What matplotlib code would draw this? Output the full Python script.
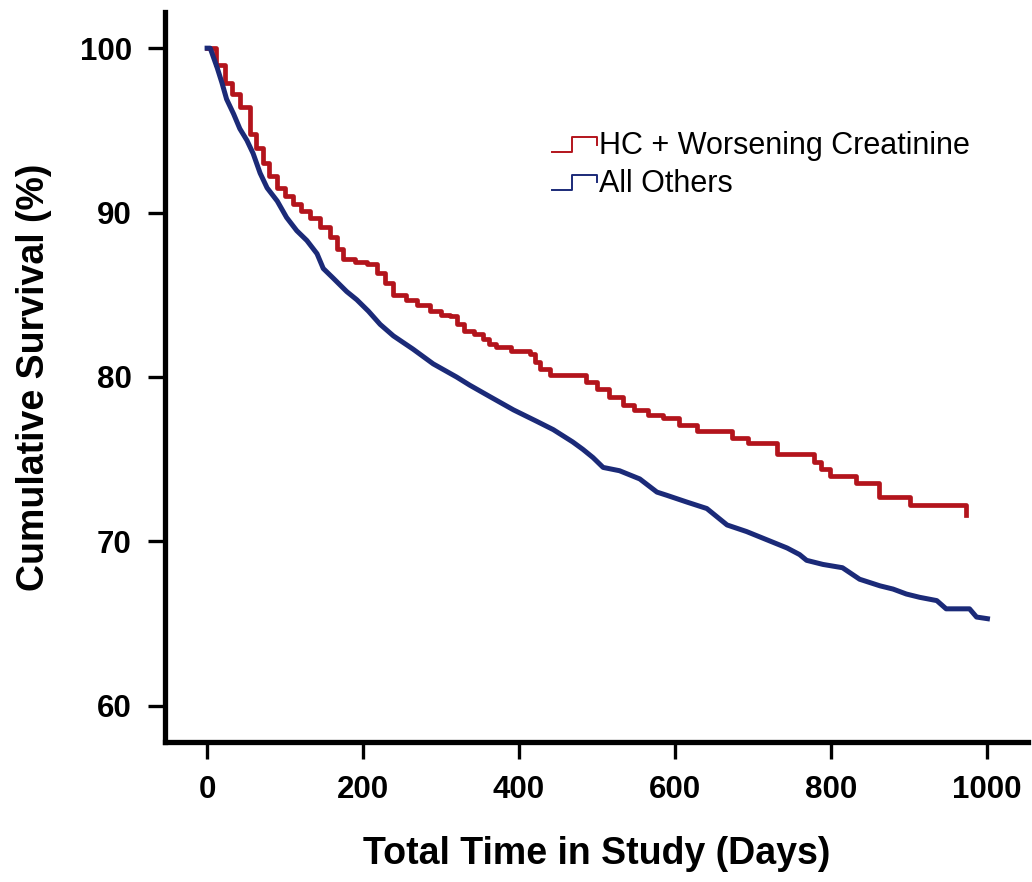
import matplotlib
matplotlib.use('Agg')
import matplotlib.pyplot as plt
from matplotlib.lines import Line2D
from matplotlib.legend_handler import HandlerBase

# --- data (days, cumulative survival %) ---
hc_days = [0, 4, 12, 23, 32, 42, 55, 63, 72, 80, 90, 100, 110, 120, 132, 145, 158, 166, 174,
           190, 205, 218, 228, 239, 255, 269, 286, 300, 311, 320, 329, 342, 354, 362, 371, 390,
           414, 420, 427, 440, 474, 486, 500, 516, 533, 548, 565, 585, 605, 628, 673, 694, 731,
           779, 788, 799, 833, 862, 901, 974]
hc_surv = [100, 100, 99.0, 97.9, 97.2, 96.4, 94.8, 93.9, 93.0, 92.2, 91.5, 91.0, 90.5, 90.1,
           89.7, 89.1, 88.5, 87.8, 87.2, 87.0, 86.9, 86.3, 85.7, 85.0, 84.7, 84.4, 84.0, 83.8,
           83.7, 83.2, 82.8, 82.6, 82.3, 82.0, 81.8, 81.6, 81.4, 80.9, 80.5, 80.1, 80.1, 79.7,
           79.3, 78.8, 78.3, 78.0, 77.7, 77.5, 77.1, 76.7, 76.3, 76.0, 75.3, 74.8, 74.4, 74.0,
           73.55, 72.7, 72.2, 71.6]

oth_days = [0, 4, 13, 19, 25, 34, 42, 51, 59, 68, 77, 90, 102, 115, 128, 141, 149, 162, 179,
            192, 207, 222, 239, 264, 290, 320, 337, 363, 393, 423, 444, 469, 482, 495, 508,
            529, 555, 577, 590, 615, 641, 654, 667, 692, 718, 744, 760, 769, 790, 815, 837,
            863, 880, 897, 914, 936, 948, 978, 987, 1001]
oth_surv = [100, 100, 98.8, 97.9, 96.9, 96.0, 95.1, 94.4, 93.6, 92.4, 91.5, 90.7, 89.7, 88.9,
            88.3, 87.5, 86.6, 86.0, 85.2, 84.7, 84.0, 83.2, 82.5, 81.7, 80.8, 80.0, 79.5, 78.8,
            78.0, 77.3, 76.8, 76.05, 75.6, 75.1, 74.5, 74.3, 73.8, 73.0, 72.8, 72.4, 72.0, 71.5,
            71.0, 70.6, 70.1, 69.6, 69.2, 68.85, 68.6, 68.4, 67.7, 67.3, 67.1, 66.8, 66.6, 66.4,
            65.9, 65.9, 65.4, 65.3]

x_ticks = [0, 200, 400, 600, 800, 1000]
y_ticks = [60, 70, 80, 90, 100]

RED = '#b3141c'
BLUE = '#1b2a78'
FONT = 'Liberation Sans'


class StepHandler(HandlerBase):
    # small step-shaped legend key, like the original
    def create_artists(self, legend, orig_handle, xdescent, ydescent, width, height, fontsize, trans):
        fx = [0, 0.45, 0.45, 1.0, 1.0]
        fy = [0.1, 0.1, 0.8, 0.8, 0.45]
        xs = [f * width - xdescent for f in fx]
        ys = [f * height - ydescent for f in fy]
        ln = Line2D(xs, ys, color=orig_handle.get_color(), lw=1.4)
        ln.set_transform(trans)
        return [ln]


fig = plt.figure(figsize=(10.32, 8.82), dpi=100)
ax = fig.add_axes([165 / 1032, 1 - 742 / 882, (1028 - 165) / 1032, (742 - 12) / 882])

l1, = ax.plot(hc_days, hc_surv, drawstyle='steps-post', color=RED, lw=3.4)
# the "All Others" curve has very fine steps, so it is drawn as a jagged line
l2, = ax.plot(oth_days, oth_surv, color=BLUE, lw=3.6)

ax.set_xlim(-54, 1053)
ax.set_ylim(57.8, 102.2)
ax.set_xticks(x_ticks)
ax.set_yticks(y_ticks)

for s in ['top', 'right']:
    ax.spines[s].set_visible(False)
for s in ['left', 'bottom']:
    ax.spines[s].set_linewidth(3.8)
ax.tick_params(direction='out', length=12, width=2.4, pad=12)

for lab in ax.get_xticklabels() + ax.get_yticklabels():
    lab.set_fontfamily(FONT)
    lab.set_fontweight('bold')
    lab.set_fontsize(22.5)

ax.set_xlabel('Total Time in Study (Days)', fontfamily=FONT, fontweight='bold', fontsize=27, labelpad=22)
ax.set_ylabel('Cumulative Survival (%)', fontfamily=FONT, fontweight='bold', fontsize=27, labelpad=20)

leg = ax.legend([l1, l2], ['HC + Worsening Creatinine', 'All Others'],
                handler_map={Line2D: StepHandler()},
                loc='upper left', bbox_to_anchor=(537 / 1032, 1 - 116 / 882),
                bbox_transform=fig.transFigure, frameon=False, borderpad=0,
                handlelength=1.45, handletextpad=0.08, labelspacing=0.25,
                prop={'family': FONT, 'size': 22})

fig.savefig('out.png', dpi=100)
